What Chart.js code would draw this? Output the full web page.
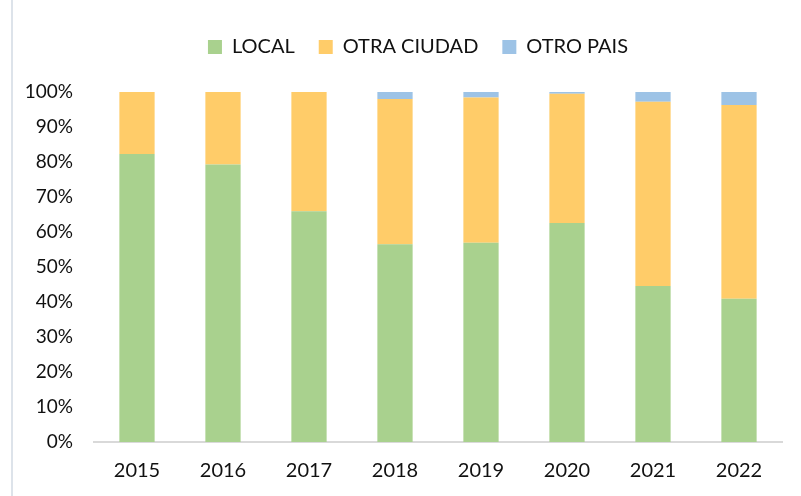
<!DOCTYPE html>
<html>
<head>
<meta charset="utf-8">
<script src="https://cdn.jsdelivr.net/npm/chart.js@4.4.1/dist/chart.umd.min.js"></script>
<style>
  html, body { margin: 0; padding: 0; background: #fff; }
  #wrap { position: relative; width: 801px; height: 496px; }
  #edge { position: absolute; left: 11px; top: 0; width: 2px; height: 496px; background: #dde3ea; }
</style>
</head>
<body>
<div id="wrap">
  <div id="edge"></div>
  <canvas id="chart"></canvas>
</div>
<script>
const years = ['2015', '2016', '2017', '2018', '2019', '2020', '2021', '2022'];
const local = [82.3, 79.3, 65.9, 56.5, 56.9, 62.6, 44.6, 40.9];
const otraCiudad = [17.7, 20.7, 34.1, 41.5, 41.5, 36.9, 52.6, 55.4];
const otroPais = [0, 0, 0, 2.0, 1.6, 0.5, 2.8, 3.7];

const ctx = document.getElementById('chart');
const font = { family: 'Lato', size: 19 };

// push the plot area down below the legend and nudge the legend right, like the original
const legendGap = {
  id: 'legendGap',
  beforeInit(chart) {
    const fit = chart.legend.fit;
    chart.legend.fit = function () {
      fit.call(this);
      this.height += 25;
    };
  },
  afterLayout(chart) {
    chart.legend.left += 27;
    chart.legend.right += 27;
  }
};

new Chart(ctx, {
  type: 'bar',
  data: {
    labels: years,
    datasets: [
      { label: 'LOCAL', data: local, backgroundColor: '#a9d18e' },
      { label: 'OTRA CIUDAD', data: otraCiudad, backgroundColor: '#ffcc69' },
      { label: 'OTRO PAIS', data: otroPais, backgroundColor: '#9dc3e6' }
    ]
  },
  plugins: [legendGap],
  options: {
    responsive: true,
    maintainAspectRatio: false,
    animation: false,
    layout: { padding: { top: 13, right: 19, bottom: 0, left: 0 } },
    datasets: { bar: { categoryPercentage: 1, barPercentage: 0.41 } },
    plugins: {
      tooltip: { enabled: false },
      legend: {
        position: 'top',
        labels: {
          font: { family: 'Lato', size: 20 },
          color: '#111',
          boxWidth: 14,
          boxHeight: 14,
          padding: 24
        }
      }
    },
    scales: {
      x: {
        stacked: true,
        grid: { display: false, drawTicks: false },
        border: { display: true, color: '#d9d9d9', width: 2 },
        ticks: { font: { family: 'Lato', size: 20 }, color: '#111', padding: 17 },
        afterFit: s => { s.height = 54; }
      },
      y: {
        stacked: true,
        min: 0,
        max: 100,
        grid: { display: false, drawTicks: false },
        border: { display: false },
        ticks: {
          stepSize: 10,
          font: font,
          color: '#111',
          padding: 21,
          callback: v => v + '%'
        },
        afterFit: s => { s.width = 94; }
      }
    }
  }
});
</script>
</body>
</html>
